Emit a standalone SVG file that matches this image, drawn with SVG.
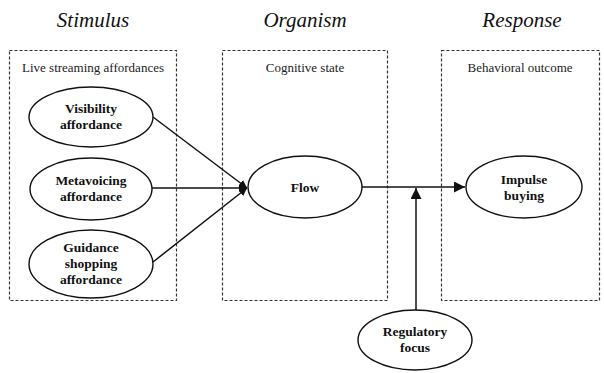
<svg xmlns="http://www.w3.org/2000/svg" width="604" height="373" viewBox="0 0 604 373">
<defs>
<style>
text{font-family:'Liberation Serif','Times New Roman',Times,serif}
.hd{font-style:italic;font-size:21px;fill:#111;text-anchor:middle}
.bl{font-size:13px;fill:#222;text-anchor:middle}
.nt{font-weight:bold;font-size:13.5px;fill:#111;text-anchor:middle}
.box{fill:none;stroke:#333;stroke-width:1.2;stroke-dasharray:3,2}
.el{fill:#fff;stroke:#111;stroke-width:1.4}
.ln{fill:none;stroke:#111;stroke-width:1.5}
</style>
<marker id="ah" viewBox="0 0 10 10" refX="10" refY="5" markerWidth="8" markerHeight="8" markerUnits="userSpaceOnUse" orient="auto">
<path d="M0,0 L10,5 L0,10 z" fill="#111"/>
</marker>
<marker id="ah2" viewBox="0 0 10 10" refX="10" refY="5" markerWidth="11" markerHeight="11" markerUnits="userSpaceOnUse" orient="auto">
<path d="M0,0 L10,5 L0,10 z" fill="#111"/>
</marker>
</defs>
<rect width="604" height="373" fill="#fff"/>
<text class="hd" x="93" y="27">Stimulus</text>
<text class="hd" x="305" y="27">Organism</text>
<text class="hd" x="522" y="27">Response</text>
<g id="box-stimulus"><rect class="box" x="9.5" y="50.5" width="167" height="250"/><text class="bl" x="93" y="72">Live streaming affordances</text></g>
<g id="box-organism"><rect class="box" x="222.5" y="50.5" width="165" height="250"/><text class="bl" x="305" y="72">Cognitive state</text></g>
<g id="box-response"><rect class="box" x="441.5" y="50.5" width="158" height="250"/><text class="bl" x="520" y="72">Behavioral outcome</text></g>
<g id="connectors">
<line class="ln" x1="153" y1="117" x2="247" y2="188" marker-end="url(#ah)"/>
<line class="ln" x1="152" y1="188" x2="247" y2="188" marker-end="url(#ah)"/>
<line class="ln" x1="153" y1="262" x2="247" y2="188" marker-end="url(#ah)"/>
<line class="ln" x1="362" y1="187" x2="465" y2="187" marker-end="url(#ah2)"/>
<line class="ln" x1="416" y1="311" x2="416" y2="188" marker-end="url(#ah2)"/>
</g>
<g id="visibility"><ellipse class="el" cx="91" cy="117" rx="62" ry="30"/><text class="nt" x="91" y="113">Visibility</text><text class="nt" x="91" y="129">affordance</text></g>
<g id="metavoicing"><ellipse class="el" cx="91" cy="189" rx="61" ry="31"/><text class="nt" x="91" y="185">Metavoicing</text><text class="nt" x="91" y="201">affordance</text></g>
<g id="guidance"><ellipse class="el" cx="91" cy="264" rx="62" ry="34"/><text class="nt" x="91" y="252">Guidance</text><text class="nt" x="91" y="268">shopping</text><text class="nt" x="91" y="284">affordance</text></g>
<g id="flow"><ellipse class="el" cx="305" cy="187" rx="57" ry="31"/><text class="nt" x="305" y="192">Flow</text></g>
<g id="impulse"><ellipse class="el" cx="524" cy="187" rx="58" ry="31"/><text class="nt" x="524" y="184">Impulse</text><text class="nt" x="524" y="200">buying</text></g>
<g id="regulatory"><ellipse class="el" cx="415" cy="340" rx="57" ry="30"/><text class="nt" x="415" y="336">Regulatory</text><text class="nt" x="415" y="352">focus</text></g>
</svg>
